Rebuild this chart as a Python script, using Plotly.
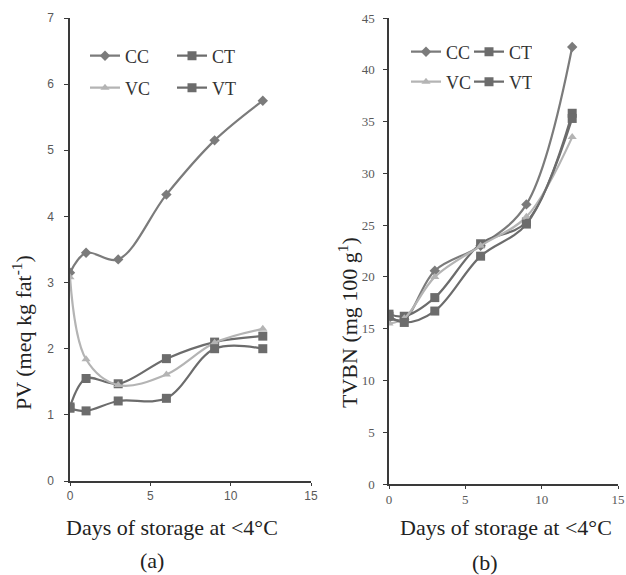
import plotly.graph_objects as go

days = [0, 1, 3, 6, 9, 12]

# Panel (a): PV (meq kg fat-1)
pv_cc = [3.15, 3.45, 3.35, 4.33, 5.15, 5.75]
pv_ct = [1.12, 1.55, 1.47, 1.85, 2.10, 2.19]
pv_vc = [3.08, 1.84, 1.45, 1.61, 2.09, 2.30]
pv_vt = [1.10, 1.06, 1.21, 1.25, 2.00, 2.00]

# Panel (b): TVBN (mg 100 g-1)
tv_cc = [16.0, 15.9, 20.6, 23.0, 27.0, 42.2]
tv_ct = [16.4, 16.2, 18.0, 23.2, 25.3, 35.8]
tv_vc = [15.5, 16.0, 20.0, 23.0, 25.8, 33.5]
tv_vt = [16.2, 15.6, 16.7, 22.0, 25.1, 35.3]

series_names = ["CC", "CT", "VC", "VT"]
x_ticks = [0, 5, 10, 15]
pv_ticks = [0, 1, 2, 3, 4, 5, 6, 7]
tv_ticks = [0, 5, 10, 15, 20, 25, 30, 35, 40, 45]

W, H = 626, 575
def px_x(p):
    return p / W
def px_y(p):
    return 1 - p / H

styles = {
    "CC": dict(color="#7b7b7b", symbol="diamond", size=8),
    "CT": dict(color="#6c6c6c", symbol="square", size=9),
    "VC": dict(color="#b4b4b4", symbol="triangle-up", size=8),
    "VT": dict(color="#6c6c6c", symbol="square", size=9),
}

fig = go.Figure()

def add_panel(vals, xa, ya, legends):
    for name, v, lg in zip(series_names, vals, legends):
        st = styles[name]
        fig.add_trace(go.Scatter(
            x=days, y=v, name=name, mode="lines+markers",
            line=dict(color=st["color"], width=2.2, shape="spline", smoothing=1.0),
            marker=dict(symbol=st["symbol"], size=st["size"], color=st["color"]),
            xaxis=xa, yaxis=ya, legend=lg, showlegend=True,
        ))

add_panel([pv_cc, pv_ct, pv_vc, pv_vt], "x", "y", ["legend", "legend", "legend2", "legend2"])
add_panel([tv_cc, tv_ct, tv_vc, tv_vt], "x2", "y2", ["legend3", "legend3", "legend4", "legend4"])

axis_line = dict(showline=True, linecolor="#3a3a3a", linewidth=1.5, showgrid=False,
                 zeroline=False, ticks="outside", tickcolor="#3a3a3a",
                 automargin=False, ticklabeloverflow="allow")

sans_tick = dict(family="Liberation Sans, Arial, sans-serif", size=12, color="#595959")
serif_tick = dict(family="Liberation Serif, Times New Roman, serif", size=13, color="#595959")

fig.update_layout(
    width=W, height=H,
    margin=dict(l=0, r=0, t=0, b=0),
    paper_bgcolor="white", plot_bgcolor="white",
    xaxis=dict(domain=[px_x(70), px_x(311)], range=[0, 15], tickvals=x_ticks,
               anchor="y", tickfont=sans_tick, ticklen=3, ticklabelstandoff=0, **axis_line),
    yaxis=dict(domain=[px_y(481), px_y(18)], range=[0, 7], tickvals=pv_ticks,
               anchor="x", tickfont=sans_tick, ticklen=4, ticklabelstandoff=8, **axis_line),
    xaxis2=dict(domain=[px_x(389), px_x(618)], range=[0, 15], tickvals=x_ticks,
                anchor="y2", tickfont=serif_tick, ticklen=3, ticklabelstandoff=0, **axis_line),
    yaxis2=dict(domain=[px_y(484), px_y(18)], range=[0, 45], tickvals=tv_ticks,
                anchor="x2", tickfont=serif_tick, ticklen=4, ticklabelstandoff=6, **axis_line),
)

leg_font = dict(family="Liberation Serif, Times New Roman, serif", size=18, color="#333333")
def leg(x, y, ew):
    return dict(x=px_x(x), y=px_y(y), xanchor="left", yanchor="middle",
                orientation="h", entrywidth=ew, entrywidthmode="pixels",
                font=leg_font, bgcolor="rgba(0,0,0,0)", itemwidth=30,
                tracegroupgap=0, itemclick=False)

fig.update_layout(
    legend=leg(85, 56, 42),
    legend2=leg(85, 88, 42),
    legend3=leg(406, 52, 18),
    legend4=leg(406, 82, 18),
)

title_font = dict(family="Liberation Serif, Times New Roman, serif", size=22, color="#222222")
annos = [
    dict(text="Days of storage at &lt;4°C", x=px_x(172), y=px_y(527)),
    dict(text="Days of storage at &lt;4°C", x=px_x(506), y=px_y(527)),
    dict(text="(a)", x=px_x(152), y=px_y(560)),
    dict(text="(b)", x=px_x(485), y=px_y(562)),
    dict(text="PV (meq kg fat<sup>-1</sup>)", x=px_x(22), y=px_y(333), textangle=-90),
    dict(text="TVBN (mg 100 g<sup>1</sup>)", x=px_x(348), y=px_y(323), textangle=-90),
]
for a in annos:
    fig.add_annotation(xref="paper", yref="paper", showarrow=False,
                       xanchor="center", yanchor="middle", font=title_font, **a)

fig.write_html("out.html", config={"displayModeBar": False},
               post_script="document.body.style.margin='0';document.body.style.overflow='hidden';")
